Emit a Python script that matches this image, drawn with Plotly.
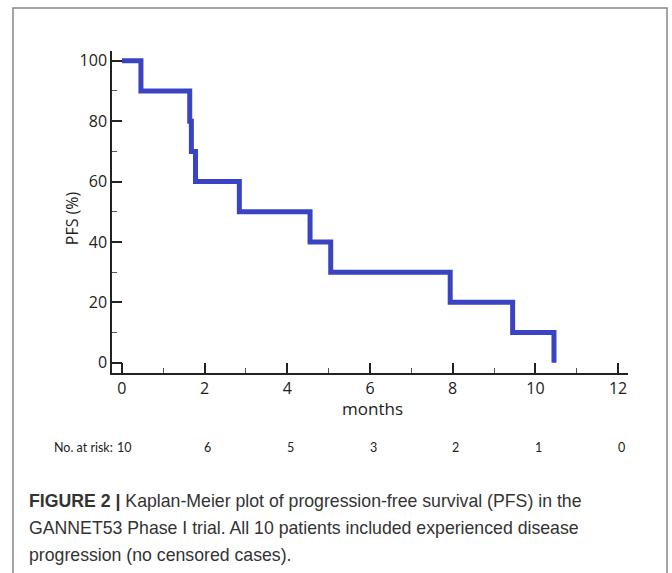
import plotly.graph_objects as go

# ---- data ----
event_times = [0, 0.46, 1.64, 1.68, 1.78, 2.84, 4.55, 5.05, 7.94, 9.45, 10.45]
pfs_percent = [100, 90, 80, 70, 60, 50, 40, 30, 20, 10, 0]
risk_times = [0, 2, 4, 6, 8, 10, 12]
risk_counts = [10, 6, 5, 3, 2, 1, 0]
x_ticks = [0, 2, 4, 6, 8, 10, 12]
y_ticks = [0, 20, 40, 60, 80, 100]

W, H = 672, 573
def px(x):
    return x / W
def py(y):
    return 1 - y / H

fig = go.Figure()
fig.add_trace(go.Scatter(
    x=event_times, y=pfs_percent, mode="lines", line_shape="hv",
    line=dict(color="#3a44c2", width=5), showlegend=False, hoverinfo="skip"))

tick_font = dict(family="Open Sans, Liberation Sans, Arial, sans-serif", size=16, color="#222222")

fig.update_layout(
    width=W, height=H,
    margin=dict(l=0, r=0, t=0, b=0),
    paper_bgcolor="white", plot_bgcolor="white",
    xaxis=dict(domain=[px(112), px(628)], range=[-0.24, 12.24],
               tickvals=x_ticks, ticks="inside", ticklen=10, tickwidth=1.5, tickcolor="#222",
               showline=True, linecolor="#222", linewidth=1.5, showgrid=False, zeroline=False,
               minor=dict(ticks="inside", dtick=1, tick0=0, ticklen=5, tickwidth=1, tickcolor="#555"),
               tickfont=tick_font, fixedrange=True),
    yaxis=dict(domain=[py(373), py(50)], range=[-3.3, 103.3],
               tickvals=y_ticks, ticks="inside", ticklen=10, tickwidth=1.5, tickcolor="#222",
               showline=True, linecolor="#222", linewidth=1.5, showgrid=False, zeroline=False,
               minor=dict(ticks="inside", dtick=10, tick0=0, ticklen=5, tickwidth=1, tickcolor="#555"),
               tickfont=tick_font, fixedrange=True),
)

ann = []
ann.append(dict(text="months", x=px(372), y=py(409), xref="paper", yref="paper",
                xanchor="center", yanchor="middle", showarrow=False,
                font=dict(family="Open Sans, Liberation Sans, Arial, sans-serif", size=17, color="#222")))
ann.append(dict(text="PFS (%)", x=px(72), y=py(218), xref="paper", yref="paper", textangle=-90,
                xanchor="center", yanchor="middle", showarrow=False,
                font=dict(family="Open Sans, Liberation Sans, Arial, sans-serif", size=16, color="#222")))
risk_font = dict(family="Lato, Liberation Sans, Arial, sans-serif", size=12.5, color="#222")
ann.append(dict(text="No. at risk:", x=px(115), y=py(448), xref="paper", yref="paper",
                xanchor="right", yanchor="middle", showarrow=False, font=risk_font))
for t, n in zip(risk_times, risk_counts):
    ann.append(dict(text=str(n), x=t, y=py(448), xref="x", yref="paper", xshift=3,
                    xanchor="center", yanchor="middle", showarrow=False, font=risk_font))

cap_font = dict(family="Liberation Sans, Arial, sans-serif", size=17.7, color="#333333")
caption_lines = [
    "<b>FIGURE 2 |</b> Kaplan-Meier plot of progression-free survival (PFS) in the",
    "GANNET53 Phase I trial. All 10 patients included experienced disease",
    "progression (no censored cases).",
]
for i, line in enumerate(caption_lines):
    ann.append(dict(text=line, x=px(27), y=py(502 + 27 * i), xref="paper", yref="paper",
                    xanchor="left", yanchor="middle", showarrow=False, font=cap_font))
fig.update_layout(annotations=ann)

fig.add_shape(type="rect", xref="paper", yref="paper",
              x0=px(13), x1=px(667), y0=-0.02, y1=py(7),
              line=dict(color="#888888", width=1.5), fillcolor="rgba(0,0,0,0)", layer="below")

fig.write_html("out.html", config={"displayModeBar": False},
               post_script="document.body.style.margin='0';")
